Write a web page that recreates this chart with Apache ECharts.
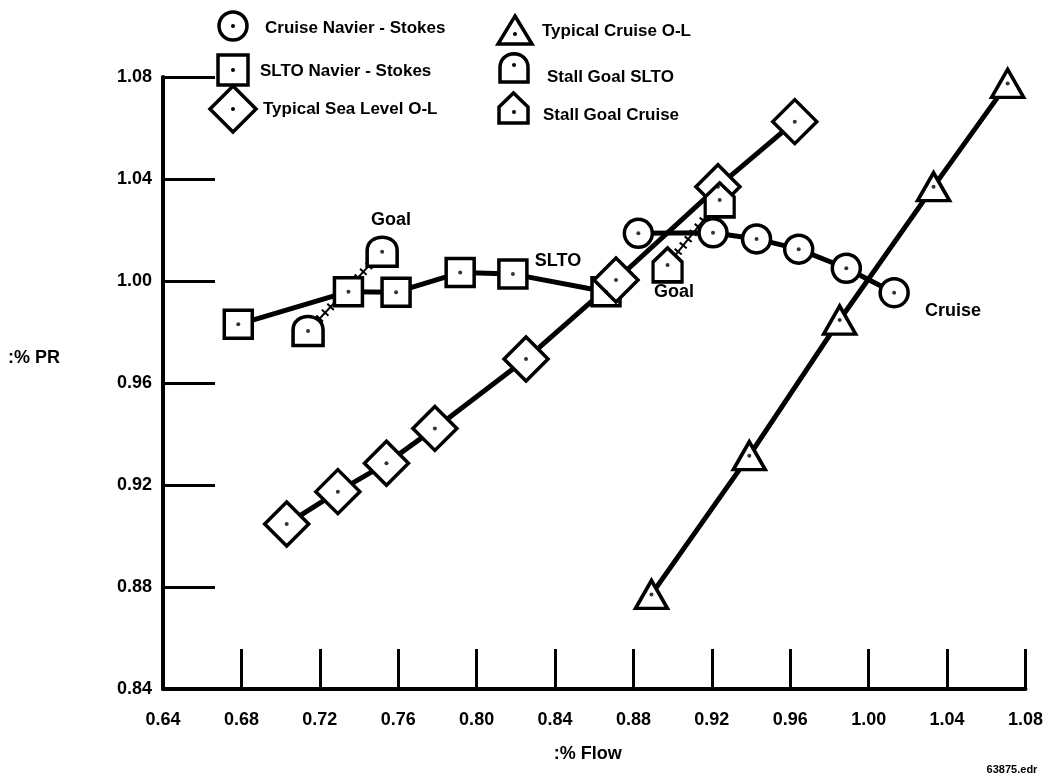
<!DOCTYPE html>
<html><head><meta charset="utf-8">
<script src="https://cdn.jsdelivr.net/npm/echarts@6/dist/echarts.min.js"></script>
<style>html,body{margin:0;padding:0;background:#fff}#c{width:1046px;height:777px}</style>
</head><body><div id="c"></div>
<script>
// ---- data ----
const xTickLabels = ['0.64','0.68','0.72','0.76','0.80','0.84','0.88','0.92','0.96','1.00','1.04','1.08'];
const yTickLabels = ['0.84','0.88','0.92','0.96','1.00','1.04','1.08'];

const cruiseNSFlow = [0.8825, 0.9206, 0.9428, 0.9643, 0.9886, 1.0130];
const cruiseNSPR   = [1.0187, 1.0189, 1.0165, 1.0125, 1.0050, 0.9954];

const sltoNSFlow = [0.6784, 0.7346, 0.7589, 0.7916, 0.8185, 0.8660];
const sltoNSPR   = [0.9830, 0.9958, 0.9956, 1.0033, 1.0027, 0.9958];

const seaLevelFlow = [0.7031, 0.7292, 0.7540, 0.7787, 0.8252, 0.8711, 0.9231, 0.9623];
const seaLevelPR   = [0.9047, 0.9174, 0.9285, 0.9422, 0.9694, 1.0004, 1.0370, 1.0625];

const cruiseOLFlow = [0.8892, 0.9391, 0.9852, 1.0331, 1.0709];
const cruiseOLPR   = [0.8771, 0.9315, 0.9847, 1.0370, 1.0775];

const goalSLTOFlow = [0.7140, 0.7518];
const goalSLTOPR   = [0.9804, 1.0115];

const goalCruiseFlow = [0.8974, 0.9240];
const goalCruisePR   = [1.0063, 1.0318];

const seriesNames = ['Cruise Navier - Stokes','SLTO Navier - Stokes','Typical Sea Level O-L',
                     'Typical Cruise O-L','Stall Goal SLTO','Stall Goal Cruise'];
const notes = ['Goal','SLTO','Goal','Cruise'];
const axisTitles = [':% Flow', ':% PR'];

// ---- build ----
const pairs = (xs, ys) => xs.map((x, i) => [x, ys[i]]);
const FONT = '"Liberation Sans", Arial, sans-serif';
const ARCH = 'path://M0,30L0,14C0,-4 30,-4 30,14L30,30Z';
const HOUSE = 'path://M0,34L0,14L14.5,0L29,14L29,34Z';
const markStyle = {color:'#fff', borderColor:'#000', borderWidth:3.5};

function lineSeries(name, xs, ys, symbol, size, width) {
  return {
    name, type:'line', data: pairs(xs, ys), symbol, symbolSize: size,
    showSymbol:true, showAllSymbol:true, symbolKeepAspect:false,
    lineStyle:{color:'#000', width}, itemStyle: markStyle,
    emphasis:{disabled:true}, silent:true, z:2
  };
}
function hatch(xs, ys) {
  return {type:'line', data: pairs(xs, ys), symbol:'none',
    lineStyle:{color:'#000', width:9, type:[2,6]}, silent:true, z:1};
}

const allPts = [].concat(
  pairs(cruiseNSFlow, cruiseNSPR), pairs(sltoNSFlow, sltoNSPR), pairs(seaLevelFlow, seaLevelPR),
  pairs(cruiseOLFlow, cruiseOLPR), pairs(goalSLTOFlow, goalSLTOPR), pairs(goalCruiseFlow, goalCruisePR));

const txt = (text, x, y, size, align) => ({
  type:'text', z:20, style:{text, x, y, fill:'#000', fontSize:size, fontWeight:'bold',
    fontFamily:FONT, align: align || 'left', verticalAlign:'middle'}
});
const dot = (x, y) => ({type:'circle', z:21, shape:{cx:x, cy:y, r:2}, style:{fill:'#000'}});
const outline = {fill:'#fff', stroke:'#000', lineWidth:3.5};

// legend arch outline as polygon (flat base, round top)
function archPoints(cx, top, w, h) {
  const r = w / 2, pts = [[cx - r, top + h]];
  for (let k = 0; k <= 16; k++) {
    const a = Math.PI - Math.PI * k / 16;
    pts.push([cx + r * Math.cos(a), top + r - r * Math.sin(a) * 0.95]);
  }
  pts.push([cx + r, top + h]);
  return pts;
}

const graphics = [
  // legend left column
  {type:'circle', z:20, shape:{cx:233, cy:26, r:14}, style:outline}, dot(233,26),
  txt(seriesNames[0], 265, 28, 17),
  {type:'rect', z:20, shape:{x:218, y:55, width:30, height:30}, style:outline}, dot(233,70),
  txt(seriesNames[1], 260, 71, 17),
  {type:'polygon', z:20, shape:{points:[[233,86],[256,109],[233,132],[210,109]]}, style:outline}, dot(233,109),
  txt(seriesNames[2], 263, 109, 17),
  // legend right column
  {type:'polygon', z:20, shape:{points:[[515,16],[532,44],[498,44]]}, style:outline}, dot(515,34),
  txt(seriesNames[3], 542, 31, 17),
  {type:'polygon', z:20, shape:{points:archPoints(514, 53, 28, 29)}, style:outline}, dot(514,65),
  txt(seriesNames[4], 547, 77, 17),
  {type:'polygon', z:20, shape:{points:[[499,123],[499,107],[513.5,93],[528,107],[528,123]]}, style:outline}, dot(514,112),
  txt(seriesNames[5], 543, 115, 17),
  // annotations
  txt(notes[0], 391, 220, 18, 'center'),
  txt(notes[1], 558, 261, 18, 'center'),
  txt(notes[2], 674, 292, 18, 'center'),
  txt(notes[3], 953, 311, 18, 'center'),
  txt(axisTitles[1], 8, 358, 18, 'left'),
  txt('63875.edr', 1012, 770, 11, 'center')
];

const axisLabelStyle = {color:'#000', fontSize:18, fontWeight:'bold', fontFamily:FONT};

const option = {
  backgroundColor:'#fff',
  animation:false,
  grid:{left:163, right:10, top:77, bottom:88, containLabel:false},
  xAxis:{
    type:'value', min:0.64, max:1.08, interval:0.04,
    name:axisTitles[0], nameLocation:'middle', nameGap:56,
    nameTextStyle:{color:'#000', fontSize:18, fontWeight:'bold', fontFamily:FONT, padding:[0,13,0,0]},
    axisLine:{show:true, lineStyle:{color:'#000', width:4}},
    axisTick:{show:true, inside:true, length:40, lineStyle:{color:'#000', width:3}},
    splitLine:{show:false},
    axisLabel:Object.assign({margin:22, formatter:(v, i) => xTickLabels[i]}, axisLabelStyle)
  },
  yAxis:{
    type:'value', min:0.84, max:1.08, interval:0.04,
    axisLine:{show:true, lineStyle:{color:'#000', width:4}},
    axisTick:{show:true, inside:true, length:52, lineStyle:{color:'#000', width:3}},
    splitLine:{show:false},
    axisLabel:Object.assign({margin:11, formatter:(v, i) => yTickLabels[i]}, axisLabelStyle)
  },
  graphic: graphics,
  series:[
    hatch(goalSLTOFlow, goalSLTOPR),
    hatch(goalCruiseFlow, goalCruisePR),
    lineSeries(seriesNames[1], sltoNSFlow, sltoNSPR, 'rect', 28, 5),
    lineSeries(seriesNames[2], seaLevelFlow, seaLevelPR, 'diamond', 44, 5),
    lineSeries(seriesNames[0], cruiseNSFlow, cruiseNSPR, 'circle', 28, 5),
    lineSeries(seriesNames[3], cruiseOLFlow, cruiseOLPR, 'triangle', [32,28], 5),
    lineSeries(seriesNames[4], goalSLTOFlow, goalSLTOPR, ARCH, [30,29], 2),
    lineSeries(seriesNames[5], goalCruiseFlow, goalCruisePR, HOUSE, [29,34], 2),
    {type:'scatter', data: allPts, symbol:'circle', symbolSize:4, itemStyle:{color:'#000'}, silent:true, z:10}
  ]
};
echarts.init(document.getElementById('c'), null, {renderer:'canvas'}).setOption(option);
</script></body></html>
